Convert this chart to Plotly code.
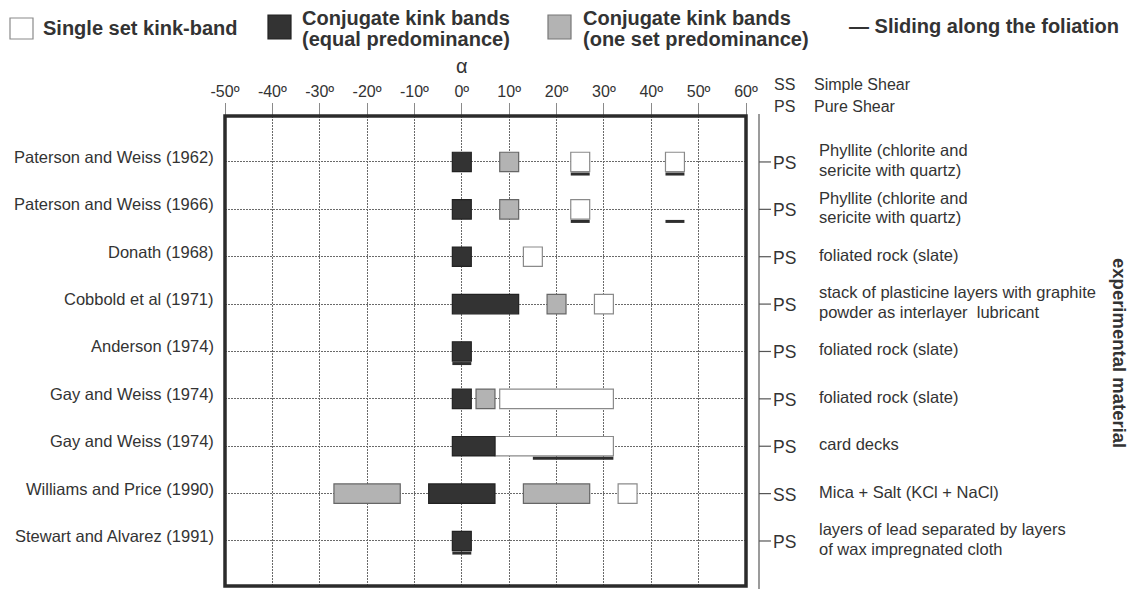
import plotly.graph_objects as go

# ---- data -------------------------------------------------------------
studies = [
    "Paterson and Weiss (1962)",
    "Paterson and Weiss (1966)",
    "Donath (1968)",
    "Cobbold et al (1971)",
    "Anderson (1974)",
    "Gay and Weiss (1974)",
    "Gay and Weiss (1974)",
    "Williams and Price (1990)",
    "Stewart and Alvarez (1991)",
]
regime = ["PS", "PS", "PS", "PS", "PS", "PS", "PS", "SS", "PS"]
material = [
    "Phyllite (chlorite and\nsericite with quartz)",
    "Phyllite (chlorite and\nsericite with quartz)",
    "foliated rock (slate)",
    "stack of plasticine layers with graphite\npowder as interlayer  lubricant",
    "foliated rock (slate)",
    "foliated rock (slate)",
    "card decks",
    "Mica + Salt (KCl + NaCl)",
    "layers of lead separated by layers\nof wax impregnated cloth",
]
alpha_ticks = [-50, -40, -30, -20, -10, 0, 10, 20, 30, 40, 50, 60]

# angle ranges (study number, alpha from, alpha to) in degrees
single_set = [(1, 25, 25), (1, 45, 45), (2, 25, 25), (3, 15, 15),
              (4, 30, 30), (6, 10, 30), (7, 9, 30), (8, 35, 35)]
conj_equal = [(1, 0, 0), (2, 0, 0), (3, 0, 0), (4, 0, 10), (5, 0, 0),
              (6, 0, 0), (7, 0, 5), (8, -5, 5), (9, 0, 0)]
conj_one_set = [(1, 10, 10), (2, 10, 10), (4, 20, 20), (6, 5, 5),
                (8, -25, -15), (8, 15, 25)]
sliding = [(1, 25, 25), (1, 45, 45), (2, 25, 25), (2, 45, 45),
           (5, 0, 0), (7, 17, 30), (9, 0, 0)]

# ---- geometry / style -------------------------------------------------
W, H = 1135, 589
L, R, T, B = 225, 746, 116, 586          # plot area in pixels
HALF = 2.0                               # half width of a band mark (deg)
BAR_H = 0.41                             # mark height in row units
SLIDE_OFF = 0.255                        # sliding line offset below row
FONT = "Liberation Sans, Arial, sans-serif"
INK = "#333333"


def px(x):
    return (x - L) / (R - L)


def py(y):
    return (B - y) / (B - T)


def band(items, fill, edge):
    return go.Bar(
        orientation="h",
        y=[r for r, _, _ in items],
        base=[lo - HALF for _, lo, _ in items],
        x=[hi - lo + 2 * HALF for _, lo, hi in items],
        width=BAR_H,
        marker=dict(color=fill, line=dict(color=edge, width=1.2)),
        showlegend=False,
        hoverinfo="skip",
    )


fig = go.Figure()
fig.add_trace(band(single_set, "#ffffff", "#8a8a8a"))
fig.add_trace(band(conj_one_set, "#b3b3b3", "#666666"))
fig.add_trace(band(conj_equal, "#333333", "#222222"))

# sliding along the foliation: thick dark strokes under the marks
sx, sy = [], []
for r, lo, hi in sliding:
    sx += [lo - HALF, hi + HALF, None]
    sy += [r + SLIDE_OFF, r + SLIDE_OFF, None]
fig.add_trace(go.Scatter(x=sx, y=sy, mode="lines",
                         line=dict(color="#2e2e2e", width=3),
                         showlegend=False, hoverinfo="skip"))

rows = list(range(1, len(studies) + 1))
dotted = "2px,1px"

fig.update_layout(
    width=W, height=H,
    margin=dict(l=L, r=W - R, t=T, b=H - B, pad=0),
    paper_bgcolor="white", plot_bgcolor="white",
    barmode="overlay",
    font=dict(family=FONT, color=INK, size=16),
    xaxis=dict(
        range=[-50, 60], side="top",
        tickvals=alpha_ticks,
        ticktext=[f"{v}º" for v in alpha_ticks],
        ticks="outside", ticklen=12, tickcolor="#8a8a8a", tickwidth=1,
        tickfont=dict(size=16, color=INK),
        showgrid=True, gridcolor="#6a6a6a", gridwidth=1, griddash=dotted,
        zeroline=False, showline=False, fixedrange=True,
    ),
    yaxis=dict(
        range=[9.95, 0.03],
        tickvals=rows, showticklabels=False, ticks="",
        showgrid=True, gridcolor="#6a6a6a", gridwidth=1, griddash=dotted,
        zeroline=False, showline=False, fixedrange=True,
    ),
)

shapes = []
# heavy frame
shapes.append(dict(type="rect", xref="paper", yref="paper", x0=0, x1=1,
                   y0=0, y1=1, line=dict(color="#2b2b2b", width=3.5),
                   layer="above"))
# loading-type bracket on the right
shapes.append(dict(type="line", xref="paper", yref="paper",
                   x0=px(759), x1=px(759), y0=py(H + 2), y1=py(114),
                   line=dict(color="#7a7a7a", width=1.5)))
for r in rows:
    shapes.append(dict(type="line", xref="paper", yref="y",
                       x0=px(759), x1=px(771), y0=r, y1=r,
                       line=dict(color="#555555", width=1.2)))

# legend swatches
for x0, x1, y0, y1, fill, edge in [
    (10, 33, 18, 39, "#ffffff", "#8a8a8a"),
    (268, 291, 15, 39, "#333333", "#222222"),
    (548, 571, 15, 39, "#b3b3b3", "#777777"),
]:
    shapes.append(dict(type="rect", xref="paper", yref="paper",
                       x0=px(x0), x1=px(x1), y0=py(y1), y1=py(y0),
                       fillcolor=fill, line=dict(color=edge, width=1.2)))
fig.update_layout(shapes=shapes)

ann = []


def text(x, y, s, size=16.5, anchor="left", bold=False, **kw):
    ann.append(dict(x=px(x), y=py(y), xref="paper", yref="paper",
                    text=f"<b>{s}</b>" if bold else s, showarrow=False,
                    xanchor=anchor, yanchor="middle",
                    font=dict(size=size, color=kw.pop("color", INK),
                              family=FONT), **kw))


# legend text
text(41, 28, "Single set kink-band", size=20, bold=True)
text(300, 18, "Conjugate kink bands", size=20, bold=True)
text(300, 39, "(equal predominance)", size=20, bold=True)
text(581, 18, "Conjugate kink bands", size=20, bold=True)
text(581, 39, "(one set predominance)", size=20, bold=True)
text(847, 26, "— Sliding along the foliation", size=20, bold=True)

# axis symbol and loading key
text(462, 66, "α", size=20, anchor="center")
text(772, 85, "SS", size=16)
text(812, 85, "Simple Shear", size=16)
text(772, 107, "PS", size=16)
text(812, 107, "Pure Shear", size=16)

# side title
ann.append(dict(x=px(1120), y=py(353), xref="paper", yref="paper",
                text="<b>experimental material</b>", showarrow=False,
                textangle=90, xanchor="center", yanchor="middle",
                font=dict(size=18.5, color=INK, family=FONT)))

# per-study labels
for r, name, reg, mat in zip(rows, studies, regime, material):
    ann.append(dict(x=px(216), y=r, xref="paper", yref="y", text=name,
                    showarrow=False, xanchor="right", yanchor="middle",
                    yshift=5, font=dict(size=16.5, color=INK, family=FONT)))
    ann.append(dict(x=px(771), y=r, xref="paper", yref="y", text=reg,
                    showarrow=False, xanchor="left", yanchor="middle",
                    yshift=-1, font=dict(size=17.5, color=INK, family=FONT)))
    lines = mat.split("\n")
    step = 19.5
    start = (len(lines) - 1) * step / 2
    for i, ln in enumerate(lines):
        ann.append(dict(x=px(817), y=r, xref="paper", yref="y", text=ln,
                        showarrow=False, xanchor="left", yanchor="middle",
                        yshift=start - i * step + 2,
                        font=dict(size=16.5, color=INK, family=FONT)))

fig.update_layout(annotations=ann)
fig.write_html("out.html")
